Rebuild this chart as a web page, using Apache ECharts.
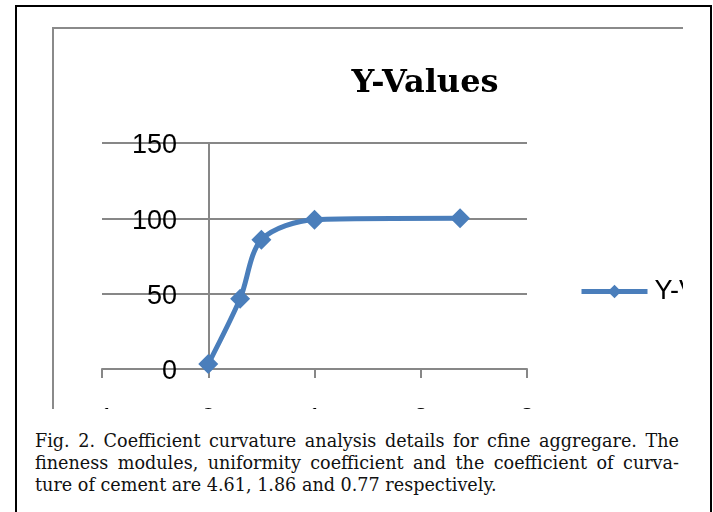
<!DOCTYPE html>
<html>
<head>
<meta charset="utf-8">
<script src="https://cdn.jsdelivr.net/npm/echarts@6/dist/echarts.min.js"></script>
<style>
  html, body { margin: 0; padding: 0; background: #fff; width: 713px; height: 512px; overflow: hidden; }
  #box { position: absolute; left: 15px; top: 5px; width: 697px; height: 530px; box-sizing: border-box; border: 2px solid #000; }
  #clip { position: absolute; left: 52px; top: 27px; width: 631px; height: 382px; box-sizing: border-box;
          border-left: 2px solid #8a8a8a; border-top: 2px solid #8a8a8a; overflow: hidden; }
  #chart { position: absolute; left: 0; top: 0; width: 720px; height: 420px; }
  #caption { position: absolute; left: 35px; top: 430px; width: 644px; font-family: "DejaVu Serif", serif;
             font-size: 17.6px; line-height: 22px; color: #111; }
  #caption div { text-align: justify; text-align-last: justify; white-space: nowrap; }
  #caption div.last { text-align-last: left; }
</style>
</head>
<body>
<div id="box"></div>
<div id="clip"><div id="chart"></div></div>
<div id="caption">
  <div>Fig. 2. Coefficient curvature analysis details for cfine aggregare. The</div>
  <div>fineness modules, uniformity coefficient and the coefficient of curva-</div>
  <div class="last">ture of cement are 4.61, 1.86 and 0.77 respectively.</div>
</div>
<script>
// values
const xValues = [0, 0.3, 0.5, 1.0, 2.37];
const yValues = [3.3, 46.7, 85.8, 99.1, 100];
const seriesName = "Y-Values";

const points = xValues.map((x, i) => [x, yValues[i]]);
const gray = "#878787";

let myChart = echarts.init(document.getElementById("chart"));
myChart.setOption({
  animation: false,
  title: {
    text: seriesName,
    left: 366,
    top: 34,
    textAlign: "center",
    textStyle: { fontFamily: "DejaVu Serif", fontWeight: "bold", fontSize: 32, color: "#000" }
  },
  legend: {
    left: 525,
    top: 249,
    padding: 0,
    itemWidth: 66,
    itemHeight: 17,
    itemGap: 5,
    data: [seriesName],
    lineStyle: { width: 5 },
    textStyle: { fontFamily: "Liberation Sans", fontSize: 27, color: "#000", padding: [0, 0, 0, 2] }
  },
  grid: { left: 48, top: 114, width: 425, height: 226, outerBoundsMode: "none" },
  xAxis: {
    type: "value",
    min: -1,
    max: 3,
    interval: 1,
    axisLine: { lineStyle: { color: gray, width: 2 } },
    axisTick: { length: 9, lineStyle: { color: gray, width: 2 } },
    splitLine: { show: false },
    axisLabel: { margin: 37, fontFamily: "Liberation Sans", fontSize: 27, color: "#000" }
  },
  yAxis: {
    type: "value",
    min: 0,
    max: 150,
    interval: 50,
    axisLine: { show: true, lineStyle: { color: gray, width: 2 } },
    axisTick: { show: false },
    splitLine: { lineStyle: { color: gray, width: 2 } },
    axisLabel: {
      margin: -75,
      formatter: "{v|{value}}",
      rich: { v: { fontFamily: "Liberation Sans", fontSize: 27, color: "#000", padding: [6, 0, 0, 0] } }
    }
  },
  series: [
    {
      name: seriesName,
      type: "line",
      data: points,
      smooth: 0.3,
      symbol: "diamond",
      symbolSize: 20,
      lineStyle: { color: "#4a7ebb", width: 5 },
      itemStyle: { color: "#4a7ebb" }
    }
  ]
});
</script>
</body>
</html>
